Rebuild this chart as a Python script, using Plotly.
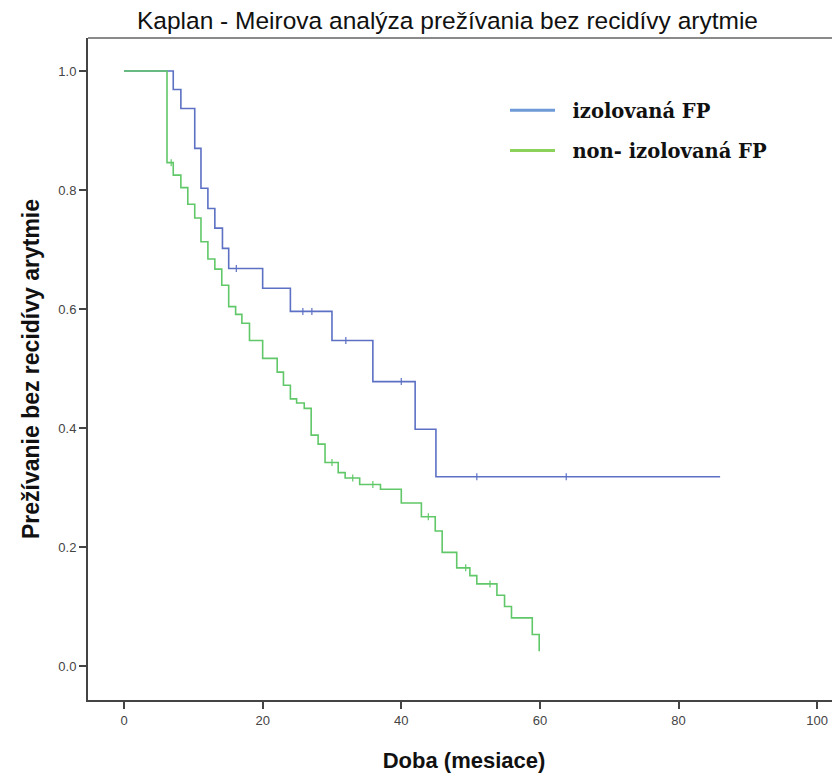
import plotly.graph_objects as go

# izolovaná FP
iso_t = [0, 7.1, 8.2, 10.2, 11.1, 12.1, 13.1, 14.2, 15.1, 20.0, 24.0, 30.0, 35.9, 42.0, 45.0, 86.0]
iso_s = [1.0, 0.969, 0.937, 0.870, 0.803, 0.769, 0.736, 0.702, 0.668, 0.635, 0.596, 0.547, 0.478, 0.398, 0.318, 0.318]
iso_cens_t = [16.2, 25.8, 27.1, 32.0, 40.0, 50.9, 63.8]
iso_cens_s = [0.668, 0.596, 0.596, 0.547, 0.478, 0.318, 0.318]

# non- izolovaná FP
non_t = [0, 6.2, 7.1, 8.2, 9.2, 10.2, 11.1, 12.1, 13.1, 14.1, 15.1, 16.1, 17.0, 18.1, 20.0,
         22.1, 23.0, 24.0, 24.9, 26.0, 27.0, 28.0, 29.0, 30.9, 31.9, 34.0, 37.0, 40.0, 42.9,
         44.9, 45.9, 48.0, 49.9, 50.9, 53.8, 54.9, 55.9, 58.9, 59.9]
non_s = [1.0, 0.846, 0.825, 0.804, 0.776, 0.753, 0.713, 0.684, 0.667, 0.640, 0.604, 0.591, 0.576, 0.547, 0.517,
         0.494, 0.472, 0.449, 0.442, 0.433, 0.388, 0.373, 0.342, 0.325, 0.316, 0.305, 0.297, 0.274, 0.251,
         0.227, 0.191, 0.165, 0.152, 0.138, 0.119, 0.100, 0.081, 0.053, 0.025]
non_cens_t = [6.8, 30.0, 33.0, 35.9, 43.9, 49.3, 52.8]
non_cens_s = [0.846, 0.342, 0.316, 0.305, 0.251, 0.165, 0.138]

x_ticks = [0, 20, 40, 60, 80, 100]
y_ticks = [0.0, 0.2, 0.4, 0.6, 0.8, 1.0]

blue = "rgb(92,112,196)"
green = "rgb(96,200,104)"
blue_leg = "rgb(110,154,216)"
green_leg = "rgb(140,210,90)"

W, H = 832, 765  # page adds an 8px body margin

fig = go.Figure()
fig.add_trace(go.Scatter(x=iso_t, y=iso_s, mode="lines", line=dict(color=blue, width=1.6, shape="hv"),
                         showlegend=False, hoverinfo="skip"))
fig.add_trace(go.Scatter(x=non_t, y=non_s, mode="lines", line=dict(color=green, width=1.6, shape="hv"),
                         showlegend=False, hoverinfo="skip"))
fig.add_trace(go.Scatter(x=iso_cens_t, y=iso_cens_s, mode="markers",
                         marker=dict(symbol="line-ns", size=5, line=dict(color=blue, width=1.2)),
                         showlegend=False, hoverinfo="skip"))
fig.add_trace(go.Scatter(x=non_cens_t, y=non_cens_s, mode="markers",
                         marker=dict(symbol="line-ns", size=5, line=dict(color=green, width=1.2)),
                         showlegend=False, hoverinfo="skip"))
# legend entries
fig.add_trace(go.Scatter(x=[None], y=[None], mode="lines", name="&nbsp;&nbsp;<b>izolovaná FP</b>",
                         line=dict(color=blue_leg, width=3), legendgroup="a"))
fig.add_trace(go.Scatter(x=[None], y=[None], mode="lines", name="&nbsp;&nbsp;<b>non- izolovaná FP</b>",
                         line=dict(color=green_leg, width=3), legendgroup="b"))

fig.add_shape(type="line", xref="paper", yref="paper", x0=0, x1=1, y0=1, y1=1,
              line=dict(color="#8a8a8a", width=2))

fig.update_layout(
    width=W, height=H,
    margin=dict(l=80, r=0, t=30, b=73),
    paper_bgcolor="white", plot_bgcolor="white",
    title=dict(text="Kaplan - Meirova analýza prežívania bez recidívy arytmie",
               x=439.5/W, xanchor="center", y=1, yanchor="top", pad=dict(t=4),
               font=dict(family="Liberation Sans", size=24.5, color="#111")),
    xaxis=dict(range=[-5.2, 103.3], tickvals=x_ticks, ticktext=[str(v) for v in x_ticks],
               showgrid=False, zeroline=False, showline=True, linecolor="#444", linewidth=2,
               ticks="outside", ticklen=7, tickwidth=1.5, tickcolor="#444",
               tickfont=dict(family="Liberation Sans", size=13, color="#444"),
               title=dict(text="<b>Doba (mesiace)</b>", standoff=26,
                          font=dict(family="Liberation Sans", size=22, color="#111"))),
    yaxis=dict(range=[-0.0571, 1.0555], tickvals=y_ticks, ticktext=[f"{v:.1f}" for v in y_ticks],
               showgrid=False, zeroline=False, showline=True, linecolor="#444", linewidth=2,
               ticks="outside", ticklen=7, tickwidth=1.5, tickcolor="#444",
               tickfont=dict(family="Liberation Sans", size=13, color="#444"),
               title=dict(text="<b>Prežívanie bez recidívy arytmie</b>", standoff=12,
                          font=dict(family="Liberation Sans", size=23, color="#111"))),
    legend=dict(x=(505-88)/752, y=1 - (91-38)/662, xanchor="left", yanchor="top",
                bgcolor="rgba(0,0,0,0)", tracegroupgap=12, itemwidth=45,
                font=dict(family="DejaVu Serif", size=19.5, color="#111")),
)

fig.write_html("out.html")
